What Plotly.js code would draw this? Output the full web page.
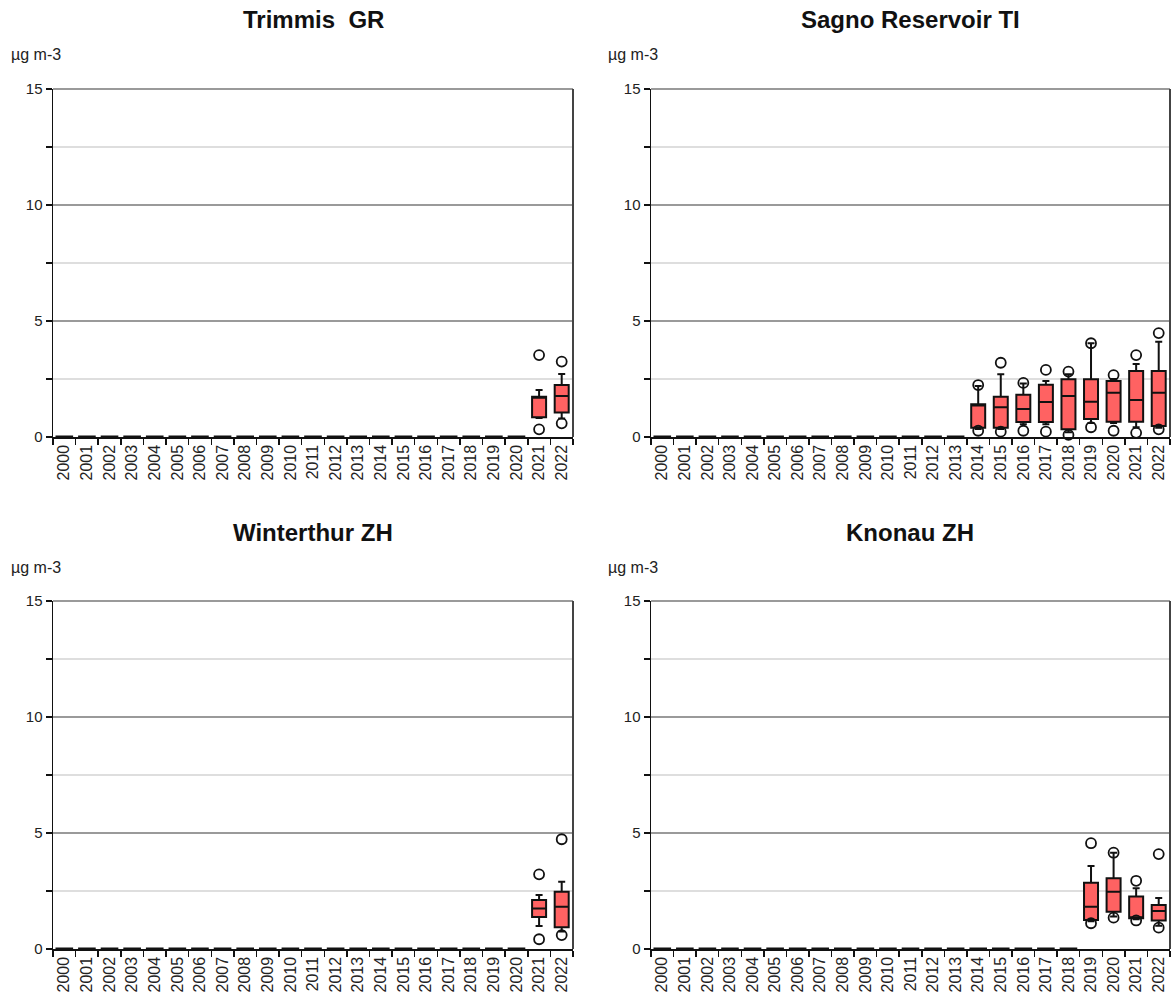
<!DOCTYPE html>
<html>
<head>
<meta charset="utf-8">
<script src="https://cdn.plot.ly/plotly-3.0.1.min.js"></script>
<style>body{margin:0;padding:0;background:#fff}#chart{width:1173px;height:999px}</style>
</head>
<body>
<div id="chart"></div>
<script>
// ---- data ----
var years = ["2000","2001","2002","2003","2004","2005","2006","2007","2008","2009","2010","2011","2012","2013","2014","2015","2016","2017","2018","2019","2020","2021","2022"];
var stationNames = ["Trimmis&nbsp; GR", "Sagno Reservoir TI", "Winterthur ZH", "Knonau ZH"];
var unitLabel = "µg m-3";

// Trimmis GR (data 2021-2022)
var trimmisYears = ["2021","2022"];
var trimmisQ1 = [0.85, 1.06];
var trimmisMedian = [1.70, 1.77];
var trimmisQ3 = [1.74, 2.24];
var trimmisLow = [0.82, 0.80];
var trimmisHigh = [2.03, 2.72];
var trimmisOutYears = ["2021","2021","2022","2022"];
var trimmisOutVals = [3.53, 0.33, 3.25, 0.59];

// Sagno Reservoir TI (data 2014-2022)
var sagnoYears = ["2014","2015","2016","2017","2018","2019","2020","2021","2022"];
var sagnoQ1 = [0.40, 0.40, 0.65, 0.65, 0.33, 0.78, 0.66, 0.66, 0.47];
var sagnoMedian = [1.36, 1.28, 1.21, 1.51, 1.77, 1.52, 1.91, 1.59, 1.91];
var sagnoQ3 = [1.41, 1.74, 1.82, 2.25, 2.49, 2.49, 2.41, 2.84, 2.84];
var sagnoLow = [0.35, 0.35, 0.55, 0.55, 0.20, 0.60, 0.60, 0.42, 0.40];
var sagnoHigh = [2.20, 2.70, 2.31, 2.41, 2.70, 4.04, 2.50, 3.15, 4.11];
var sagnoOutYears = ["2014","2014","2015","2015","2016","2016","2017","2017","2018","2018","2019","2019","2020","2020","2021","2021","2022","2022"];
var sagnoOutVals = [2.24, 0.27, 3.20, 0.23, 2.33, 0.27, 2.89, 0.23, 2.82, 0.09, 4.04, 0.42, 2.67, 0.27, 3.53, 0.18, 4.48, 0.33];

// Winterthur ZH (data 2021-2022)
var winterYears = ["2021","2022"];
var winterQ1 = [1.38, 0.94];
var winterMedian = [1.75, 1.82];
var winterQ3 = [2.11, 2.47];
var winterLow = [0.99, 0.75];
var winterHigh = [2.33, 2.90];
var winterOutYears = ["2021","2021","2022","2022"];
var winterOutVals = [3.22, 0.42, 4.73, 0.60];

// Knonau ZH (data 2019-2022)
var knonauYears = ["2019","2020","2021","2022"];
var knonauQ1 = [1.25, 1.61, 1.33, 1.23];
var knonauMedian = [1.82, 2.47, 1.36, 1.64];
var knonauQ3 = [2.86, 3.05, 2.26, 1.90];
var knonauLow = [1.20, 1.40, 1.28, 1.00];
var knonauHigh = [3.58, 4.15, 2.62, 2.20];
var knonauOutYears = ["2019","2019","2020","2020","2021","2021","2022","2022"];
var knonauOutVals = [4.56, 1.11, 4.15, 1.35, 2.94, 1.23, 4.09, 0.92];

var stations = [
  {yrs: trimmisYears, q1: trimmisQ1, med: trimmisMedian, q3: trimmisQ3, lo: trimmisLow, hi: trimmisHigh, oy: trimmisOutYears, ov: trimmisOutVals},
  {yrs: sagnoYears, q1: sagnoQ1, med: sagnoMedian, q3: sagnoQ3, lo: sagnoLow, hi: sagnoHigh, oy: sagnoOutYears, ov: sagnoOutVals},
  {yrs: winterYears, q1: winterQ1, med: winterMedian, q3: winterQ3, lo: winterLow, hi: winterHigh, oy: winterOutYears, ov: winterOutVals},
  {yrs: knonauYears, q1: knonauQ1, med: knonauMedian, q3: knonauQ3, lo: knonauLow, hi: knonauHigh, oy: knonauOutYears, ov: knonauOutVals}
];

// ---- layout geometry ----
var W = 1173, H = 999;
var colDom = [[53/W, 573/W], [651/W, 1170/W]];
var rowDom = [[1-437/H, 1-89/H], [1-949/H, 1-601/H]];
var fontFam = "Liberation Sans, Arial, sans-serif";

var traces = [];
var layout = {
  width: W, height: H,
  margin: {l:0, r:0, t:0, b:0},
  paper_bgcolor: "#fff", plot_bgcolor: "#fff",
  showlegend: false,
  boxmode: "overlay",
  font: {family: fontFam, size: 15, color: "#222"},
  annotations: [],
  shapes: []
};

stations.forEach(function(s, i) {
  var n = i + 1;
  var xa = n === 1 ? "x" : "x" + n;
  var ya = n === 1 ? "y" : "y" + n;
  var col = i % 2, row = Math.floor(i / 2);

  // empty years: flat marks at zero
  var emptyYears = years.filter(function(y){ return s.yrs.indexOf(y) < 0; });
  var zeros = emptyYears.map(function(){ return 0; });
  traces.push({
    type: "box", xaxis: xa, yaxis: ya, x: emptyYears,
    q1: zeros, median: zeros, q3: zeros, lowerfence: zeros, upperfence: zeros,
    width: 0.78, line: {color: "#111", width: 3}, fillcolor: "#111",
    hoverinfo: "skip"
  });
  traces.push({
    type: "box", xaxis: xa, yaxis: ya, x: s.yrs,
    q1: s.q1, median: s.med, q3: s.q3, lowerfence: s.lo, upperfence: s.hi,
    width: 0.62, whiskerwidth: 0.5,
    line: {color: "#111", width: 2}, fillcolor: "#ff6262"
  });
  traces.push({
    type: "scatter", mode: "markers", xaxis: xa, yaxis: ya,
    x: s.oy, y: s.ov,
    marker: {symbol: "circle-open", size: 10, color: "#111", line: {width: 1.8, color: "#111"}},
    cliponaxis: false
  });

  layout["xaxis" + (n === 1 ? "" : n)] = {
    domain: colDom[col], anchor: ya,
    type: "category", categoryorder: "array", categoryarray: years,
    range: [-0.5, 22.5],
    tickson: "boundaries", ticks: "outside", ticklen: 6, tickcolor: "#111", tickwidth: 1.5,
    tickangle: -90, tickfont: {size: 16, color: "#222", family: fontFam},
    showgrid: false, zeroline: false,
    showline: true, linecolor: "#111", linewidth: 1.5,
    fixedrange: true
  };
  layout["yaxis" + (n === 1 ? "" : n)] = {
    domain: rowDom[row], anchor: xa,
    range: [0, 15], tick0: 0, dtick: 5,
    ticks: "outside", ticklen: 6, tickcolor: "#111", tickwidth: 1.5,
    tickfont: {size: 15, color: "#222", family: fontFam},
    showgrid: true, gridcolor: "#9a9a9a", gridwidth: 1.5,
    minor: {dtick: 2.5, showgrid: true, gridcolor: "#dedede", gridwidth: 1.5, ticks: "outside", ticklen: 6, tickcolor: "#111"},
    zeroline: false,
    showline: true, linecolor: "#111", linewidth: 1.5, mirror: false,
    fixedrange: true
  };

  // top border (grey, like a gridline) and right border (dark grey)
  layout.shapes.push({
    type: "line", xref: xa + " domain", yref: ya + " domain",
    x0: 0, x1: 1, y0: 1, y1: 1, line: {color: "#9a9a9a", width: 2}, layer: "above"
  });
  layout.shapes.push({
    type: "line", xref: xa + " domain", yref: ya + " domain",
    x0: 1, x1: 1, y0: 0, y1: 1, line: {color: "#444", width: 2}, layer: "above"
  });

  var titleY = row === 0 ? 20 : 532;
  var unitY = row === 0 ? 55 : 567;
  var cx = col === 0 ? 313 : 910;
  layout.annotations.push({
    text: "<b>" + stationNames[i] + "</b>", xref: "paper", yref: "paper",
    x: cx / W, y: 1 - titleY / H, xanchor: "center", yanchor: "middle",
    showarrow: false, font: {size: 24, color: "#111", family: fontFam}
  });
  layout.annotations.push({
    text: unitLabel, xref: "paper", yref: "paper",
    x: (col === 0 ? 9 : 606) / W, y: 1 - unitY / H, xanchor: "left", yanchor: "middle",
    showarrow: false, font: {size: 16, color: "#222", family: fontFam}
  });
});

Plotly.newPlot("chart", traces, layout, {displayModeBar: false, staticPlot: true});
</script>
</body>
</html>
